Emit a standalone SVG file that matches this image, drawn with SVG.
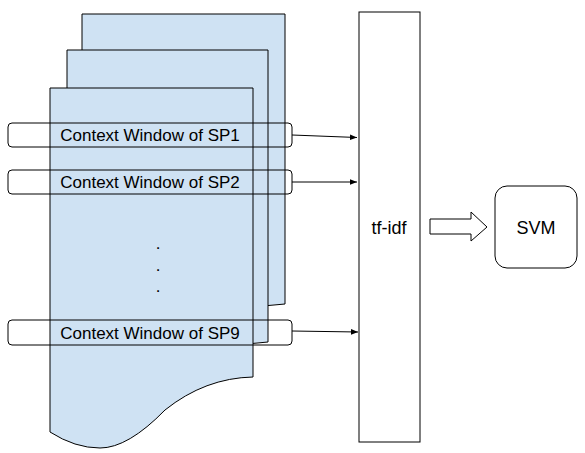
<svg xmlns="http://www.w3.org/2000/svg" width="585" height="453" viewBox="0 0 585 453">
<style>
.page{fill:#cfe2f3;stroke:#000;stroke-width:1}
.win{fill:none;stroke:#000;stroke-width:1}
.box{fill:#fff;stroke:#000;stroke-width:1}
.conn{fill:none;stroke:#000;stroke-width:1}
text{font-family:"Liberation Sans",Arial,sans-serif;fill:#000}
.lbl{font-size:17px}
.big{font-size:18px}
</style>
<defs>
<marker id="ah" viewBox="0 0 10 10" refX="10" refY="5" markerWidth="7" markerHeight="7" markerUnits="userSpaceOnUse" orient="auto">
<path d="M0,1 L10,5 L0,9 Z" fill="#000"/>
</marker>
</defs>
<g id="page3">
<path class="page" d="M82,14 H285 V304 Q240,305 200,330 Q160,360 130,360 Q105,360 82,348 Z"/>
</g>
<g id="page2">
<path class="page" d="M67,50 H268 V342 Q222,343 182,370 Q142,398 115,398 Q90,398 67,386 Z"/>
</g>
<g id="page1">
<path class="page" d="M50,88 H253 V377 Q205,378 165,410 Q128,448 100,448 Q75,448 50,432 Z"/>
<text x="158" y="249" class="lbl" text-anchor="middle">.</text>
<text x="158" y="271" class="lbl" text-anchor="middle">.</text>
<text x="158" y="292" class="lbl" text-anchor="middle">.</text>
</g>
<g id="win1">
<rect class="win" x="8" y="123" width="284" height="24" rx="4"/>
<text x="150" y="141" class="lbl" text-anchor="middle">Context Window of SP1</text>
</g>
<g id="win2">
<rect class="win" x="8" y="170" width="284" height="24" rx="4"/>
<text x="150" y="188" class="lbl" text-anchor="middle">Context Window of SP2</text>
</g>
<g id="win9">
<rect class="win" x="8" y="320" width="284" height="25" rx="4"/>
<text x="150" y="339" class="lbl" text-anchor="middle">Context Window of SP9</text>
</g>
<g id="tfidf">
<rect class="box" x="359" y="12" width="61" height="430"/>
<text x="389" y="234" class="big" text-anchor="middle">tf-idf</text>
</g>
<g id="svm">
<rect class="box" x="495" y="186" width="82" height="82" rx="12"/>
<text x="536" y="234" class="big" text-anchor="middle">SVM</text>
</g>
<g id="connectors">
<line class="conn" x1="292" y1="135" x2="357" y2="137.5" marker-end="url(#ah)"/>
<line class="conn" x1="292" y1="182" x2="357" y2="182" marker-end="url(#ah)"/>
<line class="conn" x1="292" y1="331" x2="358" y2="332" marker-end="url(#ah)"/>
<path class="box" d="M430,219 H471 V212 L487,227 L471,241 V234 H430 Z"/>
</g>
</svg>
